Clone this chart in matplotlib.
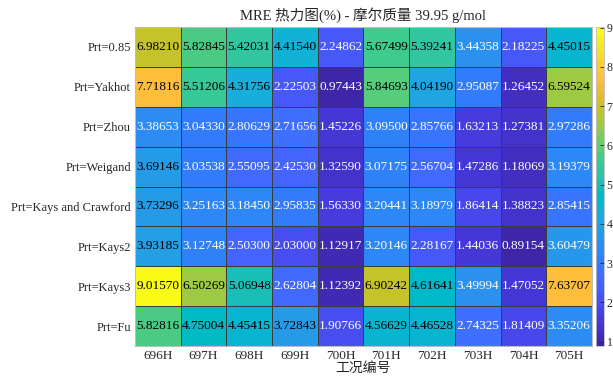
import matplotlib
matplotlib.use("Agg")
import matplotlib.pyplot as plt
from matplotlib.colors import ListedColormap
import numpy as np

plt.rcParams['font.family'] = ['Liberation Serif', 'Noto Sans CJK SC']

# MRE (%) per Prt model and case
models = ["Prt=0.85", "Prt=Yakhot", "Prt=Zhou", "Prt=Weigand",
          "Prt=Kays and Crawford", "Prt=Kays2", "Prt=Kays3", "Prt=Fu"]
cases = ["696H", "697H", "698H", "699H", "700H", "701H", "702H", "703H", "704H", "705H"]

mre_085      = [6.98210, 5.82845, 5.42031, 4.41540, 2.24862, 5.67499, 5.39241, 3.44358, 2.18225, 4.45015]
mre_yakhot   = [7.71816, 5.51206, 4.31756, 2.22503, 0.97443, 5.84693, 4.04190, 2.95087, 1.26452, 6.59524]
mre_zhou     = [3.38653, 3.04330, 2.80629, 2.71656, 1.45226, 3.09500, 2.85766, 1.63213, 1.27381, 2.97286]
mre_weigand  = [3.69146, 3.03538, 2.55095, 2.42530, 1.32590, 3.07175, 2.56704, 1.47286, 1.18069, 3.19379]
mre_kc       = [3.73296, 3.25163, 3.18450, 2.95835, 1.56330, 3.20441, 3.18979, 1.86414, 1.38823, 2.85415]
mre_kays2    = [3.93185, 3.12748, 2.50300, 2.03000, 1.12917, 3.20146, 2.28167, 1.44036, 0.89154, 3.60479]
mre_kays3    = [9.01570, 6.50269, 5.06948, 2.62804, 1.12392, 6.90242, 4.61641, 3.49994, 1.47052, 7.63707]
mre_fu       = [5.82816, 4.75004, 4.45415, 3.72843, 1.90766, 4.56629, 4.46528, 2.74325, 1.81409, 3.35206]

mre = np.array([mre_085, mre_yakhot, mre_zhou, mre_weigand,
                mre_kc, mre_kays2, mre_kays3, mre_fu])

# parula-like colormap
parula = ListedColormap([
    [0.2422, 0.1504, 0.6603], [0.2504, 0.1650, 0.7076], [0.2578, 0.1818, 0.7511], [0.2647, 0.1978, 0.7952],
    [0.2706, 0.2147, 0.8364], [0.2751, 0.2342, 0.8710], [0.2783, 0.2559, 0.8991], [0.2803, 0.2782, 0.9221],
    [0.2813, 0.3006, 0.9414], [0.2810, 0.3228, 0.9579], [0.2795, 0.3447, 0.9717], [0.2760, 0.3667, 0.9829],
    [0.2699, 0.3892, 0.9906], [0.2602, 0.4123, 0.9952], [0.2440, 0.4358, 0.9988], [0.2206, 0.4603, 0.9973],
    [0.1963, 0.4847, 0.9892], [0.1834, 0.5074, 0.9798], [0.1786, 0.5289, 0.9682], [0.1764, 0.5499, 0.9520],
    [0.1687, 0.5703, 0.9359], [0.1540, 0.5902, 0.9218], [0.1460, 0.6091, 0.9079], [0.1380, 0.6276, 0.8973],
    [0.1248, 0.6459, 0.8883], [0.1113, 0.6635, 0.8763], [0.0952, 0.6798, 0.8598], [0.0689, 0.6948, 0.8394],
    [0.0297, 0.7082, 0.8163], [0.0036, 0.7203, 0.7917], [0.0067, 0.7312, 0.7660], [0.0433, 0.7411, 0.7394],
    [0.0964, 0.7500, 0.7120], [0.1408, 0.7584, 0.6842], [0.1717, 0.7670, 0.6554], [0.1938, 0.7758, 0.6251],
    [0.2161, 0.7843, 0.5923], [0.2470, 0.7918, 0.5567], [0.2906, 0.7973, 0.5188], [0.3406, 0.8008, 0.4789],
    [0.3909, 0.8029, 0.4354], [0.4456, 0.8024, 0.3909], [0.5044, 0.7993, 0.3480], [0.5616, 0.7942, 0.3045],
    [0.6174, 0.7876, 0.2612], [0.6720, 0.7793, 0.2227], [0.7242, 0.7698, 0.1910], [0.7738, 0.7598, 0.1646],
    [0.8203, 0.7498, 0.1535], [0.8634, 0.7406, 0.1596], [0.9035, 0.7330, 0.1774], [0.9393, 0.7288, 0.2100],
    [0.9728, 0.7298, 0.2394], [0.9956, 0.7434, 0.2371], [0.9970, 0.7659, 0.2199], [0.9952, 0.7893, 0.2028],
    [0.9892, 0.8136, 0.1885], [0.9786, 0.8386, 0.1766], [0.9676, 0.8639, 0.1643], [0.9610, 0.8890, 0.1537],
    [0.9597, 0.9135, 0.1423], [0.9628, 0.9373, 0.1265], [0.9691, 0.9606, 0.1064], [0.9769, 0.9839, 0.0805],
], name="parula")

fig = plt.figure(figsize=(6.13, 3.77), dpi=100)
ax = fig.add_axes([0.2202, 0.0822, 0.7455, 0.8462])
cax = fig.add_axes([0.9723, 0.0822, 0.0125, 0.8462])

mesh = ax.pcolormesh(mre, cmap=parula, vmin=mre.min(), vmax=mre.max(),
                     edgecolors='#3c3c3c', linewidth=0.4)
ax.set_xlim(0, len(cases))
ax.set_ylim(len(models), 0)

for i in range(len(models)):
    for j in range(len(cases)):
        v = mre[i, j]
        ax.text(j + 0.5, i + 0.5, f"{v:.5f}", ha='center', va='center',
                fontsize=9.5, color='black' if v >= 3.65 else 'white')

ax.set_xticks(np.arange(len(cases)) + 0.5)
ax.set_xticklabels(cases, fontsize=9.5, color='#262626')
ax.set_yticks(np.arange(len(models)) + 0.5)
ax.set_yticklabels(models, fontsize=9, color='#262626')
ax.tick_params(axis='x', length=0, pad=3)
ax.tick_params(axis='y', length=0, pad=3)
for s in ax.spines.values():
    s.set_color('#bdbdbd')
    s.set_linewidth(0.8)

ax.set_title("MRE 热力图(%) - 摩尔质量 39.95 g/mol", fontsize=10.5, color='#262626', pad=5)
ax.set_xlabel("工况编号", fontsize=10, color='#262626', labelpad=0)

cb = fig.colorbar(mesh, cax=cax)
cb.set_ticks(range(1, 10))
cb.ax.tick_params(labelsize=8.5, direction='in', length=3, width=0.6,
                  colors='#262626', pad=2)
cb.outline.set_edgecolor('#bdbdbd')
cb.outline.set_linewidth(0.6)

fig.savefig("out.png", dpi=100)
